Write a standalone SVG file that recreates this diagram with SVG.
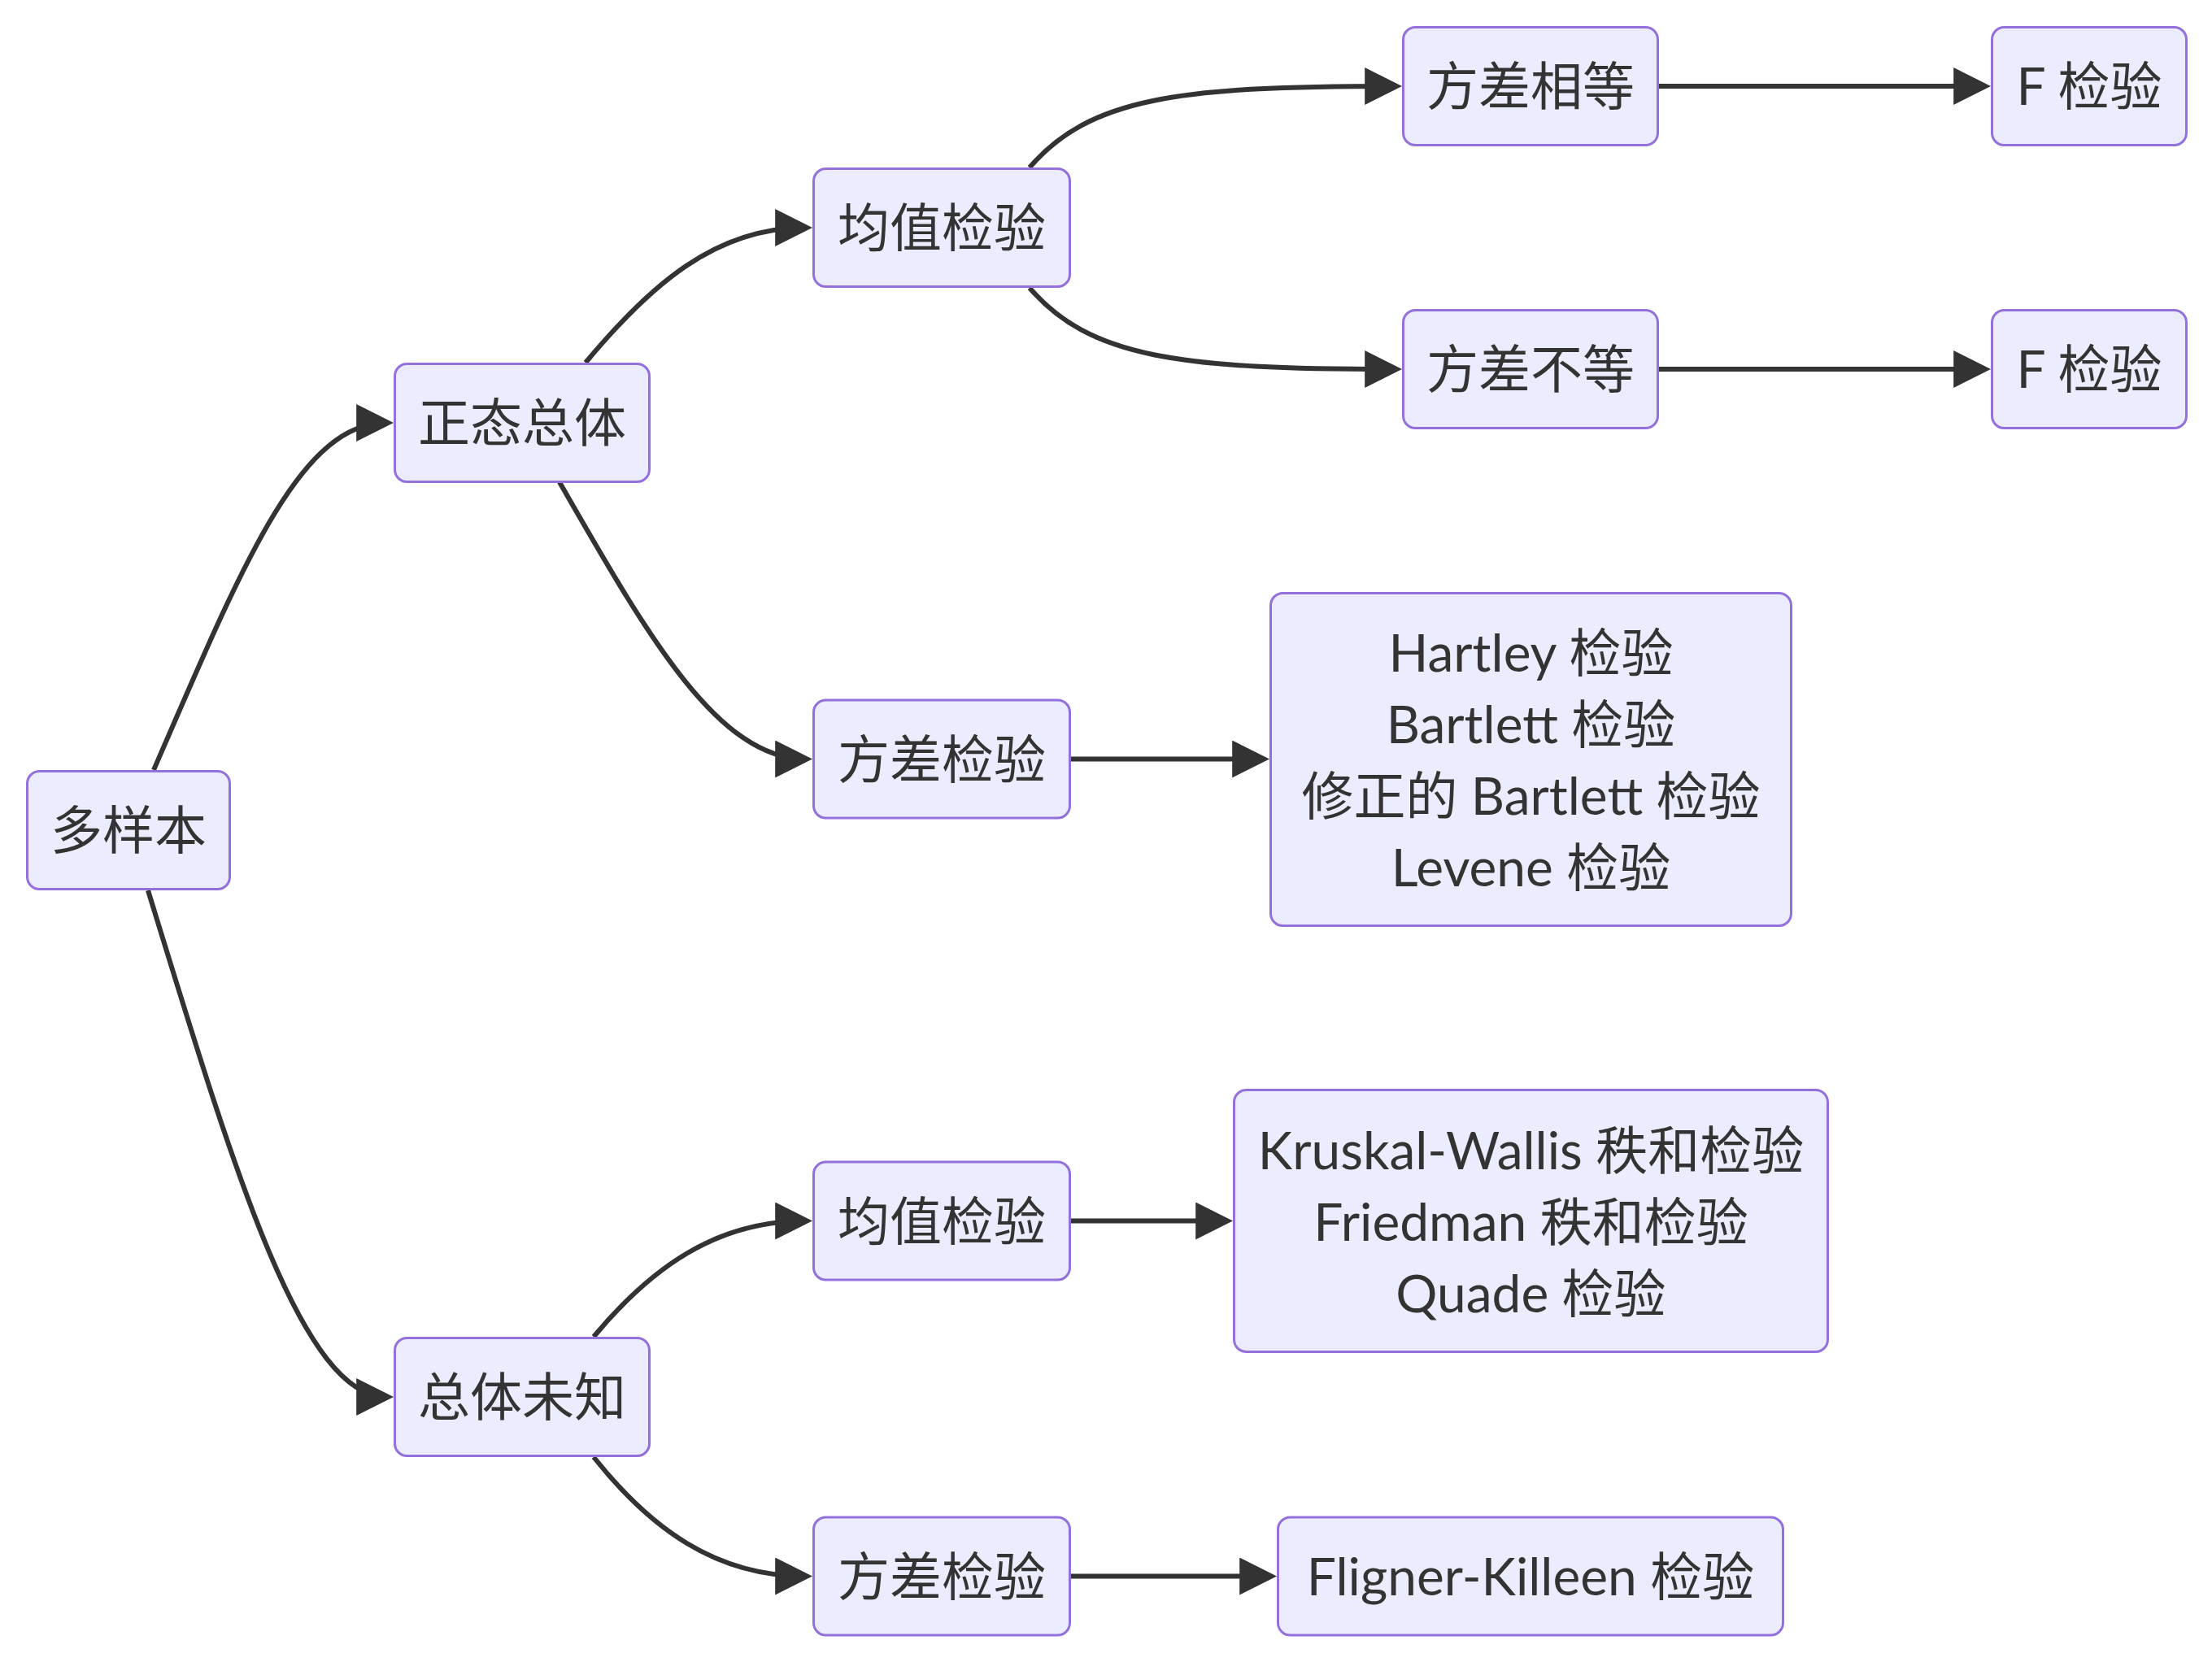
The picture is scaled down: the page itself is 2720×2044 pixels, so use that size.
<svg xmlns="http://www.w3.org/2000/svg" width="2720" height="2044" viewBox="0 0 2720 2044">
<style>
.node rect{fill:#ECECFF;stroke:#9370DB;stroke-width:3}
.node text{font-family:Lato,"Noto Sans CJK SC",sans-serif;font-size:64px;fill:#333333;text-anchor:middle}
.edge{fill:none;stroke:#333333;stroke-width:6;marker-end:url(#arrow)}
</style>
<defs>
<marker id="arrow" viewBox="0 0 10 10" refX="8" refY="5" markerWidth="46" markerHeight="46" markerUnits="userSpaceOnUse" orient="auto">
<path d="M0,0 L10,5 L0,10 z" fill="#333333"/>
</marker>
</defs>
<rect width="2720" height="2044" fill="#ffffff"/>
<g id="edges">
<path class="edge" d="M189,947 C300,690 370,520 475,520"/>
<path class="edge" d="M182,1095 C285,1430 370,1718 475,1718"/>
<path class="edge" d="M720,446 C800,350 880,280 990,280"/>
<path class="edge" d="M688,593 C790,770 880,933.5 990,933.5"/>
<path class="edge" d="M1266,206 C1340,120 1450,106 1715,106"/>
<path class="edge" d="M1266,354 C1340,440 1450,454 1715,454"/>
<path class="edge" d="M2040,106 L2439,106"/>
<path class="edge" d="M2040,454 L2439,454"/>
<path class="edge" d="M1317,933.5 L1552,933.5"/>
<path class="edge" d="M730,1644 C800,1560 880,1501.5 990,1501.5"/>
<path class="edge" d="M730,1792 C800,1880 880,1938.5 990,1938.5"/>
<path class="edge" d="M1317,1501.5 L1507,1501.5"/>
<path class="edge" d="M1317,1938.5 L1561,1938.5"/>
</g>
<g id="n_duoyangben" class="node"><rect x="33.5" y="948.5" width="249" height="145" rx="15"/><text x="158" y="1044">多样本</text></g>
<g id="n_zhengtai" class="node"><rect x="485.5" y="447.5" width="313" height="145" rx="15"/><text x="642" y="543">正态总体</text></g>
<g id="n_weizhi" class="node"><rect x="485.5" y="1645.5" width="313" height="145" rx="15"/><text x="642" y="1741">总体未知</text></g>
<g id="n_junzhi1" class="node"><rect x="1000.5" y="207.5" width="315" height="145" rx="15"/><text x="1158" y="303">均值检验</text></g>
<g id="n_fangcha1" class="node"><rect x="1000.5" y="861" width="315" height="145" rx="15"/><text x="1158" y="956.5">方差检验</text></g>
<g id="n_junzhi2" class="node"><rect x="1000.5" y="1429" width="315" height="145" rx="15"/><text x="1158" y="1524.5">均值检验</text></g>
<g id="n_fangcha2" class="node"><rect x="1000.5" y="1866" width="315" height="145" rx="15"/><text x="1158" y="1961.5">方差检验</text></g>
<g id="n_xiangdeng" class="node"><rect x="1725.5" y="33.5" width="313" height="145" rx="15"/><text x="1882" y="129">方差相等</text></g>
<g id="n_budeng" class="node"><rect x="1725.5" y="381.5" width="313" height="145" rx="15"/><text x="1882" y="477">方差不等</text></g>
<g id="n_f1" class="node"><rect x="2449.5" y="33.5" width="239" height="145" rx="15"/><text x="2569" y="129">F 检验</text></g>
<g id="n_f2" class="node"><rect x="2449.5" y="381.5" width="239" height="145" rx="15"/><text x="2569" y="477">F 检验</text></g>
<g id="n_hartley" class="node"><rect x="1562.5" y="729.5" width="640" height="409" rx="15"/>
<text x="1882.5" y="826">Hartley 检验</text>
<text x="1882.5" y="914">Bartlett 检验</text>
<text x="1882.5" y="1002">修正的 Bartlett 检验</text>
<text x="1882.5" y="1090">Levene 检验</text></g>
<g id="n_kruskal" class="node"><rect x="1517.5" y="1340.5" width="730" height="322" rx="15"/>
<text x="1882.5" y="1438">Kruskal-Wallis 秩和检验</text>
<text x="1882.5" y="1526">Friedman 秩和检验</text>
<text x="1882.5" y="1614">Quade 检验</text></g>
<g id="n_fligner" class="node"><rect x="1571.5" y="1866" width="621" height="145" rx="15"/><text x="1882" y="1961.5">Fligner-Killeen 检验</text></g>
</svg>
